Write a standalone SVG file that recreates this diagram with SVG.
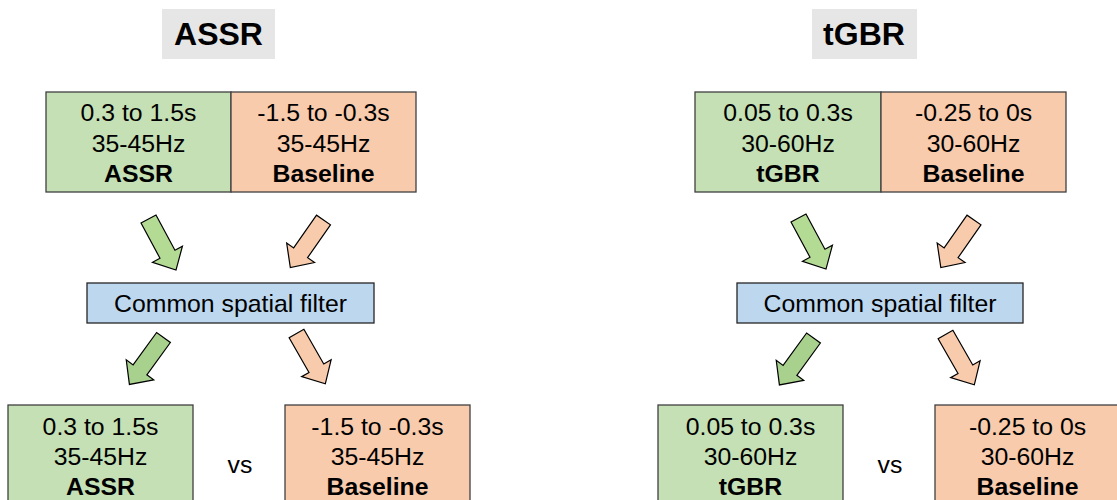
<svg xmlns="http://www.w3.org/2000/svg" xmlns:xlink="http://www.w3.org/1999/xlink" width="1117" height="500" viewBox="0 0 1117 500">
<style>
text{font-family:"Liberation Sans",Arial,sans-serif;fill:#000;text-anchor:middle}
.t{font-size:24.8px}
.b{font-size:24.8px;font-weight:bold}
.h{font-size:32px;font-weight:bold}
.hb{fill:#e6e6e6}
.g{fill:#c5e0b4;stroke:#404040;stroke-width:1.3}
.o{fill:#f8cbad;stroke:#404040;stroke-width:1.3}
.c{fill:#bdd7ee;stroke:#262626;stroke-width:1.3}
.ag{fill:#b3db94;stroke:#000;stroke-width:1.2;stroke-linejoin:miter}
.ag2{fill:#a9d18e;stroke:#000;stroke-width:1.2}
.ao{fill:#f8cbad;stroke:#000;stroke-width:1.2}
</style>
<defs>
<polygon id="arr" points="0,-8.5 40,-8.5 40,-17 58,0 40,17 40,8.5 0,8.5"/>
</defs>
<rect width="1117" height="500" fill="#fff"/>
<g id="title-assr"><rect class="hb" x="162" y="9" width="113" height="50"/><text class="h" x="218.5" y="45">ASSR</text></g>
<g id="title-tgbr"><rect class="hb" x="812" y="9" width="105" height="50"/><text class="h" x="864" y="45">tGBR</text></g>

<g id="assr-top-green"><rect class="g" x="46" y="92" width="185" height="100"/><text class="t" x="138.5" y="121">0.3 to 1.5s</text><text class="t" x="138.5" y="151.5">35-45Hz</text><text class="b" x="138.5" y="182">ASSR</text></g>
<g id="assr-top-orange"><rect class="o" x="231" y="92" width="185" height="100"/><text class="t" x="323.5" y="121">-1.5 to -0.3s</text><text class="t" x="323.5" y="151.5">35-45Hz</text><text class="b" x="323.5" y="182">Baseline</text></g>
<g id="assr-csp"><rect class="c" x="87" y="283" width="287" height="40"/><text class="t" x="230.5" y="312">Common spatial filter</text></g>
<g id="assr-bot-green"><rect class="g" x="8" y="405" width="185" height="100"/><text class="t" x="100.5" y="435">0.3 to 1.5s</text><text class="t" x="100.5" y="465">35-45Hz</text><text class="b" x="100.5" y="495">ASSR</text></g>
<g id="assr-vs"><text class="t" x="240" y="473">vs</text></g>
<g id="assr-bot-orange"><rect class="o" x="285" y="405" width="185" height="100"/><text class="t" x="377.5" y="435">-1.5 to -0.3s</text><text class="t" x="377.5" y="465">35-45Hz</text><text class="b" x="377.5" y="495">Baseline</text></g>

<g id="tgbr-top-green"><rect class="g" x="695" y="92" width="186" height="100"/><text class="t" x="788" y="121">0.05 to 0.3s</text><text class="t" x="788" y="151.5">30-60Hz</text><text class="b" x="788" y="182">tGBR</text></g>
<g id="tgbr-top-orange"><rect class="o" x="881" y="92" width="185" height="100"/><text class="t" x="973.5" y="121">-0.25 to 0s</text><text class="t" x="973.5" y="151.5">30-60Hz</text><text class="b" x="973.5" y="182">Baseline</text></g>
<g id="tgbr-csp"><rect class="c" x="737" y="283" width="286" height="40"/><text class="t" x="880" y="312">Common spatial filter</text></g>
<g id="tgbr-bot-green"><rect class="g" x="658" y="405" width="185" height="100"/><text class="t" x="750.5" y="435">0.05 to 0.3s</text><text class="t" x="750.5" y="465">30-60Hz</text><text class="b" x="750.5" y="495">tGBR</text></g>
<g id="tgbr-vs"><text class="t" x="890" y="473">vs</text></g>
<g id="tgbr-bot-orange"><rect class="o" x="935" y="405" width="185" height="100"/><text class="t" x="1027.5" y="435">-0.25 to 0s</text><text class="t" x="1027.5" y="465">30-60Hz</text><text class="b" x="1027.5" y="495">Baseline</text></g>

<g id="connectors">
<use xlink:href="#arr" class="ag" transform="translate(148.5,219) rotate(61.7)"/>
<use xlink:href="#arr" class="ao" transform="translate(323.5,220) rotate(124.9)"/>
<use xlink:href="#arr" class="ag2" transform="translate(163.5,337.5) rotate(126)"/>
<use xlink:href="#arr" class="ao" transform="translate(296.5,333.5) rotate(60.2)"/>
<use xlink:href="#arr" class="ag" transform="translate(798.5,218) rotate(61.7)"/>
<use xlink:href="#arr" class="ao" transform="translate(974,220) rotate(124.9)"/>
<use xlink:href="#arr" class="ag2" transform="translate(813.5,338) rotate(126)"/>
<use xlink:href="#arr" class="ao" transform="translate(945.5,334.5) rotate(60.2)"/>
</g>
</svg>
